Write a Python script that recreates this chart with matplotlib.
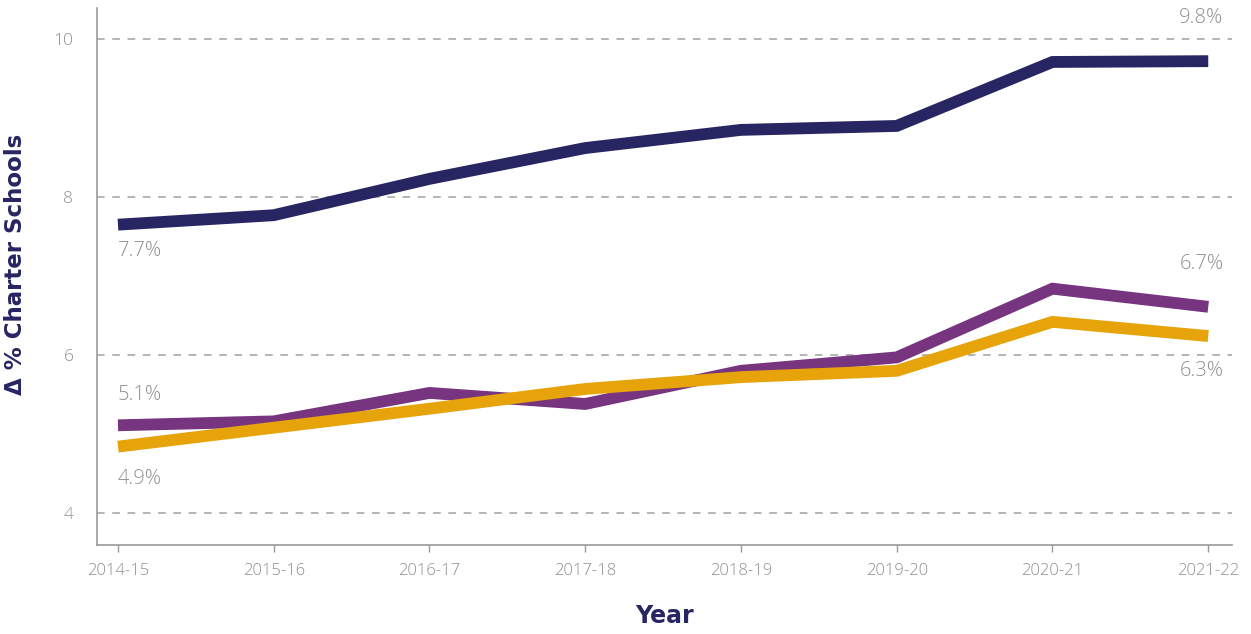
import matplotlib
matplotlib.use("Agg")
import matplotlib.pyplot as plt

years = ["2014-15", "2015-16", "2016-17", "2017-18", "2018-19", "2019-20", "2020-21", "2021-22"]
navy_vals = [7.65, 7.77, 8.23, 8.62, 8.85, 8.90, 9.71, 9.72]
purple_vals = [5.11, 5.16, 5.52, 5.38, 5.80, 5.97, 6.84, 6.61]
orange_vals = [4.84, 5.08, 5.32, 5.57, 5.72, 5.80, 6.42, 6.24]
y_ticks = [4, 6, 8, 10]
start_labels = ["7.7%", "5.1%", "4.9%"]
end_labels = ["9.8%", "6.7%", "6.3%"]

plt.rcParams['font.family'] = ['Open Sans', 'DejaVu Sans']

fig = plt.figure(figsize=(12.51, 6.34), dpi=100)
ax = fig.add_axes([0.0775, 0.1404, 0.9075, 0.8466])

x = list(range(len(years)))
NAVY = "#272562"
PURPLE = "#77347F"
ORANGE = "#E6A30A"
GRAY = "#8f8f8f"

for yt in y_ticks:
    ax.axhline(yt, color="#a0a0a0", linestyle=(0, (5, 5)), linewidth=1.1, zorder=1)

ax.plot(x, navy_vals, color=NAVY, linewidth=8.5, solid_joinstyle="miter", solid_capstyle="butt", zorder=3)
ax.plot(x, purple_vals, color=PURPLE, linewidth=8.5, solid_joinstyle="miter", solid_capstyle="butt", zorder=3)
ax.plot(x, orange_vals, color=ORANGE, linewidth=8.5, solid_joinstyle="miter", solid_capstyle="butt", zorder=4)

ax.set_xlim(-0.135, 7.154)
ax.set_ylim(3.595, 10.39)
ax.set_xticks(x)
ax.set_xticklabels(years)
ax.set_yticks(y_ticks)
ax.tick_params(axis="x", colors="#999999", labelsize=12, length=5, width=1, pad=8, labelcolor=GRAY)
ax.tick_params(axis="y", length=0, labelsize=12.5, labelcolor=GRAY, pad=17)
for lab in ax.get_xticklabels() + ax.get_yticklabels():
    lab.set_fontweight("light")

for s in ["top", "right"]:
    ax.spines[s].set_visible(False)
for s in ["left", "bottom"]:
    ax.spines[s].set_color("#999999")
    ax.spines[s].set_linewidth(1.2)

lab_kw = dict(color=GRAY, fontsize=14.5, fontweight="light")
ax.annotate(start_labels[0], (x[0], navy_vals[0]), xytext=(0, -19), textcoords="offset points", ha="left", va="center", **lab_kw)
ax.annotate(start_labels[1], (x[0], purple_vals[0]), xytext=(0, 22), textcoords="offset points", ha="left", va="center", **lab_kw)
ax.annotate(start_labels[2], (x[0], orange_vals[0]), xytext=(0, -23), textcoords="offset points", ha="left", va="center", **lab_kw)
ax.annotate(end_labels[0], (x[-1], navy_vals[-1]), xytext=(11, 31), textcoords="offset points", ha="right", va="center", **lab_kw)
ax.annotate(end_labels[1], (x[-1], purple_vals[-1]), xytext=(11, 31), textcoords="offset points", ha="right", va="center", **lab_kw)
ax.annotate(end_labels[2], (x[-1], orange_vals[-1]), xytext=(11, -25), textcoords="offset points", ha="right", va="center", **lab_kw)

ax.set_ylabel("Δ % Charter Schools", color=NAVY, fontsize=16.5, fontweight="bold", family="DejaVu Sans")
ax.yaxis.set_label_coords(-0.062, 0.523)
ax.set_xlabel("Year", color=NAVY, fontsize=17, fontweight="bold", family="DejaVu Sans", labelpad=18)

fig.savefig("out.png", dpi=100)
